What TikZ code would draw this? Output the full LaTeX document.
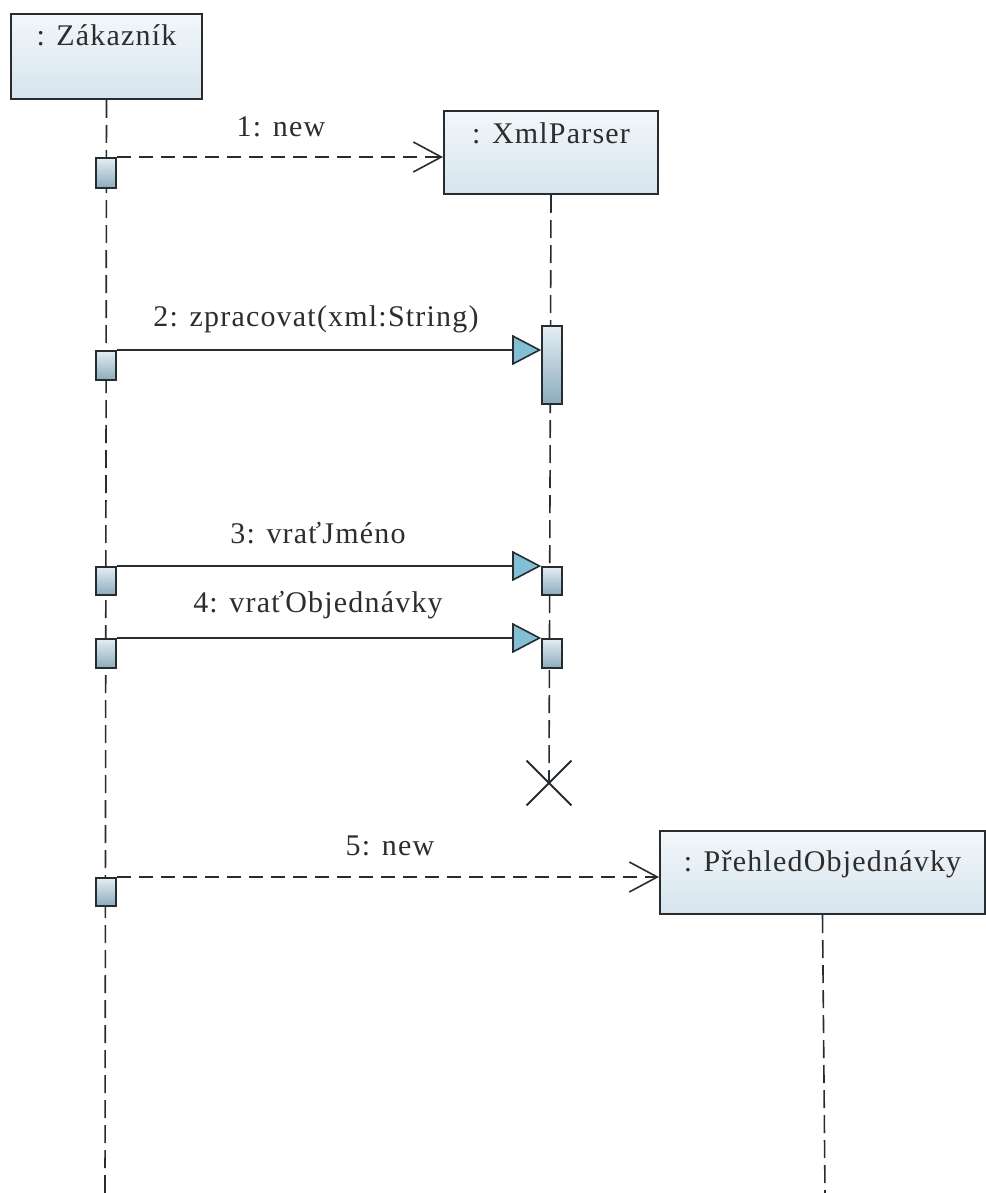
\documentclass[tikz,border=0pt]{standalone}
\usepackage{fontspec}
\setmainfont{Liberation Serif}
\newfontfamily\diagfont[LetterSpace=4]{Liberation Serif}
\usetikzlibrary{arrows.meta,shapes.misc}
\definecolor{ink}{RGB}{38,44,48}
\definecolor{txt}{RGB}{45,45,45}
\definecolor{boxtop}{RGB}{242,247,250}
\definecolor{boxbot}{RGB}{214,228,237}
\definecolor{acttop}{RGB}{228,238,244}
\definecolor{actbot}{RGB}{140,172,188}
\definecolor{headfill}{RGB}{130,190,212}
\tikzset{
  objbox/.style={draw=ink, line width=2pt, top color=boxtop, bottom color=boxbot,
    anchor=north west, inner xsep=4pt, inner ysep=0pt, text=txt,
    font=\diagfont\fontsize{30}{36}\selectfont},
  actbox/.style={draw=ink, line width=1.6pt, top color=acttop, bottom color=actbot,
    minimum width=20pt, inner sep=0pt, anchor=north},
  lifeline/.style={draw=ink, line width=1.6pt, dash pattern=on 18pt off 7pt},
  syncmsg/.style={draw=ink, line width=2pt,
    -{Triangle[length=29pt,width=30pt,fill=headfill,line width=1.6pt]}},
  createmsg/.style={draw=ink, line width=1.6pt, dash pattern=on 14pt off 8pt,
    -{Straight Barb[length=28pt,width=30pt,line width=1.6pt]}},
  msglabel/.style={text=txt, anchor=base, inner sep=0pt,
    font=\diagfont\fontsize{30}{36}\selectfont},
  destroy/.style={draw=ink, cross out, line width=1.8pt, minimum size=43pt, inner sep=0pt}
}
\begin{document}
\begin{tikzpicture}[x=1pt,y=-1pt]
  \fill[white] (0,0) rectangle (985,1193);
  \useasboundingbox (0,0) rectangle (985,1193);

  % object heads (name near the top of each box)
  \node[objbox, minimum width=191pt, text height=32pt, text depth=53pt]
       (zak) at (10,13) {: Zákazník};
  \node[objbox, minimum width=214pt, text height=33pt, text depth=50pt]
       (xml) at (443,110) {: XmlParser};
  \node[objbox, minimum width=325pt, text height=40pt, text depth=43pt]
       (pre) at (659,830) {: PřehledObjednávky};

  % lifeline ends and the destruction mark
  \coordinate (zakend) at (105,1193);
  \coordinate (preend) at (825,1193);
  \node[destroy] (kill) at (549,783) {};

  % lifelines
  \draw[lifeline] (zak.south) -- (zakend);
  \draw[lifeline] (xml.south) -- (kill.center);
  \draw[lifeline] (pre.south) -- (preend);

  % activations on Zákazník
  \node[actbox, minimum height=30pt] (a1) at (106,157) {};
  \node[actbox, minimum height=29pt] (a2) at (106,350) {};
  \node[actbox, minimum height=28pt] (a3) at (106,566) {};
  \node[actbox, minimum height=29pt] (a4) at (106,638) {};
  \node[actbox, minimum height=28pt] (a5) at (106,877) {};
  % activations on XmlParser
  \node[actbox, minimum height=78pt] (b2) at (552,325) {};
  \node[actbox, minimum height=28pt] (b3) at (552,566) {};
  \node[actbox, minimum height=29pt] (b4) at (552,638) {};

  % messages
  \draw[createmsg] (a1.north east) -- (a1.north east -| xml.west);
  \draw[syncmsg] (a2.north east) -- (a2.north east -| b2.west);
  \draw[syncmsg] (a3.north east) -- (b3.north west);
  \draw[syncmsg] (a4.north east) -- (b4.north west);
  \draw[createmsg] (a5.north east) -- (a5.north east -| pre.west);

  % message labels
  \node[msglabel] (m1) at (281,137) {1: new};
  \node[msglabel] (m2) at (316,326) {2: zpracovat(xml:String)};
  \node[msglabel] (m3) at (318,543) {3: vraťJméno};
  \node[msglabel] (m4) at (318,612) {4: vraťObjednávky};
  \node[msglabel] (m5) at (390,855) {5: new};
\end{tikzpicture}
\end{document}
